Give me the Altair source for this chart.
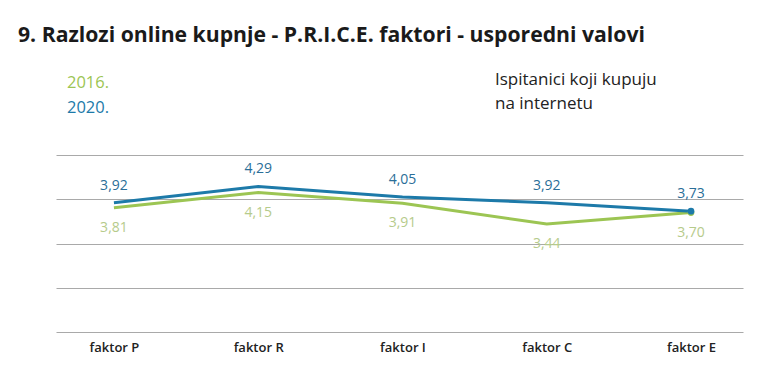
import altair as alt
import pandas as pd

factors = ["faktor P", "faktor R", "faktor I", "faktor C", "faktor E"]
v2016 = [3.81, 4.15, 3.91, 3.44, 3.70]
v2020 = [3.92, 4.29, 4.05, 3.92, 3.73]
lab2016 = ["3,81", "4,15", "3,91", "3,44", "3,70"]
lab2020 = ["3,92", "4,29", "4,05", "3,92", "3,73"]

title_text = "9. Razlozi online kupnje - P.R.I.C.E. faktori - usporedni valovi"
note_lines = ["Ispitanici koji kupuju", "na internetu"]

GREEN = "#9cc553"
GREEN_LAB = "#b6cb8b"
BLUE = "#1d7aa9"
BLUE_LAB = "#2a6e98"
FONT = "Open Sans"

df16 = pd.DataFrame({"f": factors, "v": v2016, "lab": lab2016})
df20 = pd.DataFrame({"f": factors, "v": v2020, "lab": lab2020})

xenc = alt.X("f:N", sort=factors, title=None,
             scale=alt.Scale(type="point", padding=0.381, align=0.527),
             axis=alt.Axis(domain=False, ticks=False, grid=False, labelAngle=0,
                           labelFont=FONT, labelFontSize=13, labelFontWeight=600,
                           labelColor="#222222", labelPadding=9))
yenc = alt.Y("v:Q", title=None,
             scale=alt.Scale(domain=[1, 5], nice=False, zero=False),
             axis=alt.Axis(domain=False, ticks=False, labels=False,
                           values=[1, 2, 3, 4, 5], grid=True,
                           gridColor="#a9a9a9", gridWidth=1))

base16 = alt.Chart(df16).encode(x=xenc, y=yenc)
base20 = alt.Chart(df20).encode(x=xenc, y=yenc)

line16 = base16.mark_line(color=GREEN, strokeWidth=3)
line20 = base20.mark_line(color=BLUE, strokeWidth=3)

dot16 = base16.mark_circle(color=GREEN, size=45, opacity=1).transform_filter(
    alt.datum.f == factors[-1])
dot20 = base20.mark_circle(color=BLUE, size=45, opacity=1).transform_filter(
    alt.datum.f == factors[-1])

txt16 = base16.mark_text(font=FONT, fontSize=14, fontWeight=500, color=GREEN_LAB,
                         baseline="alphabetic", dy=24).encode(text="lab:N")
txt20 = base20.mark_text(font=FONT, fontSize=14, fontWeight=500, color=BLUE_LAB,
                         baseline="alphabetic", dy=-13).encode(text="lab:N")


def label(text, x, y, size, color, weight=400):
    return alt.Chart(pd.DataFrame({"t": [text]})).mark_text(
        font=FONT, fontSize=size, fontWeight=weight, color=color,
        align="left", baseline="alphabetic").encode(
        text="t:N", x=alt.value(x), y=alt.value(y))


title = label(title_text, -38, -113, 21.2, "#1a1a1a", 700)
leg16 = label("2016.", 11, -67, 16.5, GREEN)
leg20 = label("2020.", 11, -42, 16.5, BLUE)
note1 = label(note_lines[0], 439, -70, 17, "#222222")
note2 = label(note_lines[1], 439, -46, 17, "#222222")

chart = alt.layer(
    line16, line20, dot16, dot20, txt16, txt20,
    title, leg16, leg20, note1, note2
).properties(
    width=687, height=177,
    padding={"left": 48, "top": 147, "right": 17, "bottom": 24},
    autosize="none", background="white"
).configure_view(stroke=None)

chart.save("out.html", embed_options={"renderer": "svg", "actions": False})
